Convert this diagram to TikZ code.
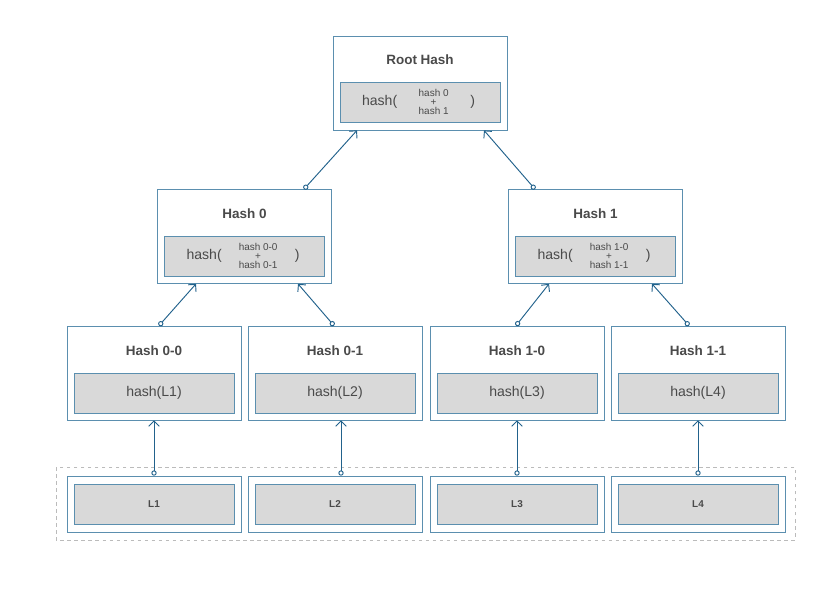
\documentclass[tikz,border=0pt]{standalone}
\usepackage{fontspec}
\setmainfont{Liberation Sans}
\usetikzlibrary{arrows.meta,calc}
\definecolor{boxblue}{HTML}{5B8FAF}
\definecolor{arrowblue}{HTML}{22628C}
\definecolor{cellgray}{HTML}{D9D9D9}
\definecolor{txtgray}{HTML}{4A4A4A}
\definecolor{dashgray}{HTML}{BBBBBB}

\begin{document}
\begin{tikzpicture}[x=0.03cm,y=-0.03cm,font=\fontsize{12}{14}\selectfont,
  outer/.style={draw=boxblue,line width=0.6pt,fill=white,minimum width=5.22cm,minimum height=2.82cm},
  leafbox/.style={outer,minimum height=1.68cm},
  cell/.style={draw=boxblue,line width=0.6pt,fill=cellgray,minimum width=4.8cm,minimum height=1.2cm,text=txtgray},
  title/.style={text=txtgray,font=\fontsize{11.5}{13}\selectfont\bfseries},
  stack/.style={text=txtgray,align=center,font=\fontsize{8.5}{7.6}\selectfont},
  link/.style={arrowblue,line width=0.8pt,{Circle[open,length=4.5pt,fill=white]}-{Straight Barb[length=4.5pt]}}]
\fill[white] (0,0) rectangle (840,597);
\useasboundingbox (0,0) rectangle (840,597);
\draw[dashgray,dashed,line width=0.6pt] (56,467) rectangle (795,540);
\node[outer] (root) at (420,83) {};
\node[title] (root-t) at (420,60) {Root Hash};
\node[cell] (root-c) at (420,102) {};
\node[text=txtgray] at ($(root-c.west)+(40,0)$) {hash(};
\node[stack] at ($(root-c.west)+(94,0)$) {hash 0\\+\\hash 1};
\node[text=txtgray] at ($(root-c.west)+(133,0)$) {)};
\foreach \x/\n/\k in {244.5/h0/0,595.5/h1/1}{
\node[outer] (\n) at (\x,236.5) {};
\node[title] (\n-t) at (\x,214) {Hash \k};
\node[cell] (\n-c) at (\x,256) {};
\node[text=txtgray] at ($(\n-c.west)+(40,0)$) {hash(};
\node[stack] at ($(\n-c.west)+(94,0)$) {hash \k-0\\+\\hash \k-1};
\node[text=txtgray] at ($(\n-c.west)+(133,0)$) {)};}
\foreach \x/\n/\k/\l in {154/h00/0-0/1,335/h01/0-1/2,517/h10/1-0/3,698/h11/1-1/4}{
\node[outer] (\n) at (\x,373) {};
\node[title] (\n-t) at (\x,351) {Hash \k};
\node[cell] (\n-c) at (\x,393) {hash(L\l)};
\node[leafbox] (l\l) at (\x,504) {};
\node[cell,font=\fontsize{8.5}{10}\selectfont\bfseries] (l\l-c) at (\x,504) {L\l};}
\draw[link] ($(h0.north)+(59.5,0)$) -- ($(root.south)+(-63,0)$);
\draw[link] ($(h1.north)+(-60.5,0)$) -- ($(root.south)+(64,0)$);
\draw[link] ($(h00.north)+(5,0)$) -- ($(h0.south)+(-48.5,0)$);
\draw[link] ($(h01.north)+(-1,0)$) -- ($(h0.south)+(53.5,0)$);
\draw[link] ($(h10.north)+(-1,0)$) -- ($(h1.south)+(-46.5,0)$);
\draw[link] ($(h11.north)+(-9,0)$) -- ($(h1.south)+(56.5,0)$);
\foreach \l/\n/\s in {1/h00/0,2/h01/6,3/h10/0,4/h11/0}
\draw[link] ($(l\l.north)+(\s,0)$) -- ($(\n.south)+(\s,0)$);
\end{tikzpicture}
\end{document}
